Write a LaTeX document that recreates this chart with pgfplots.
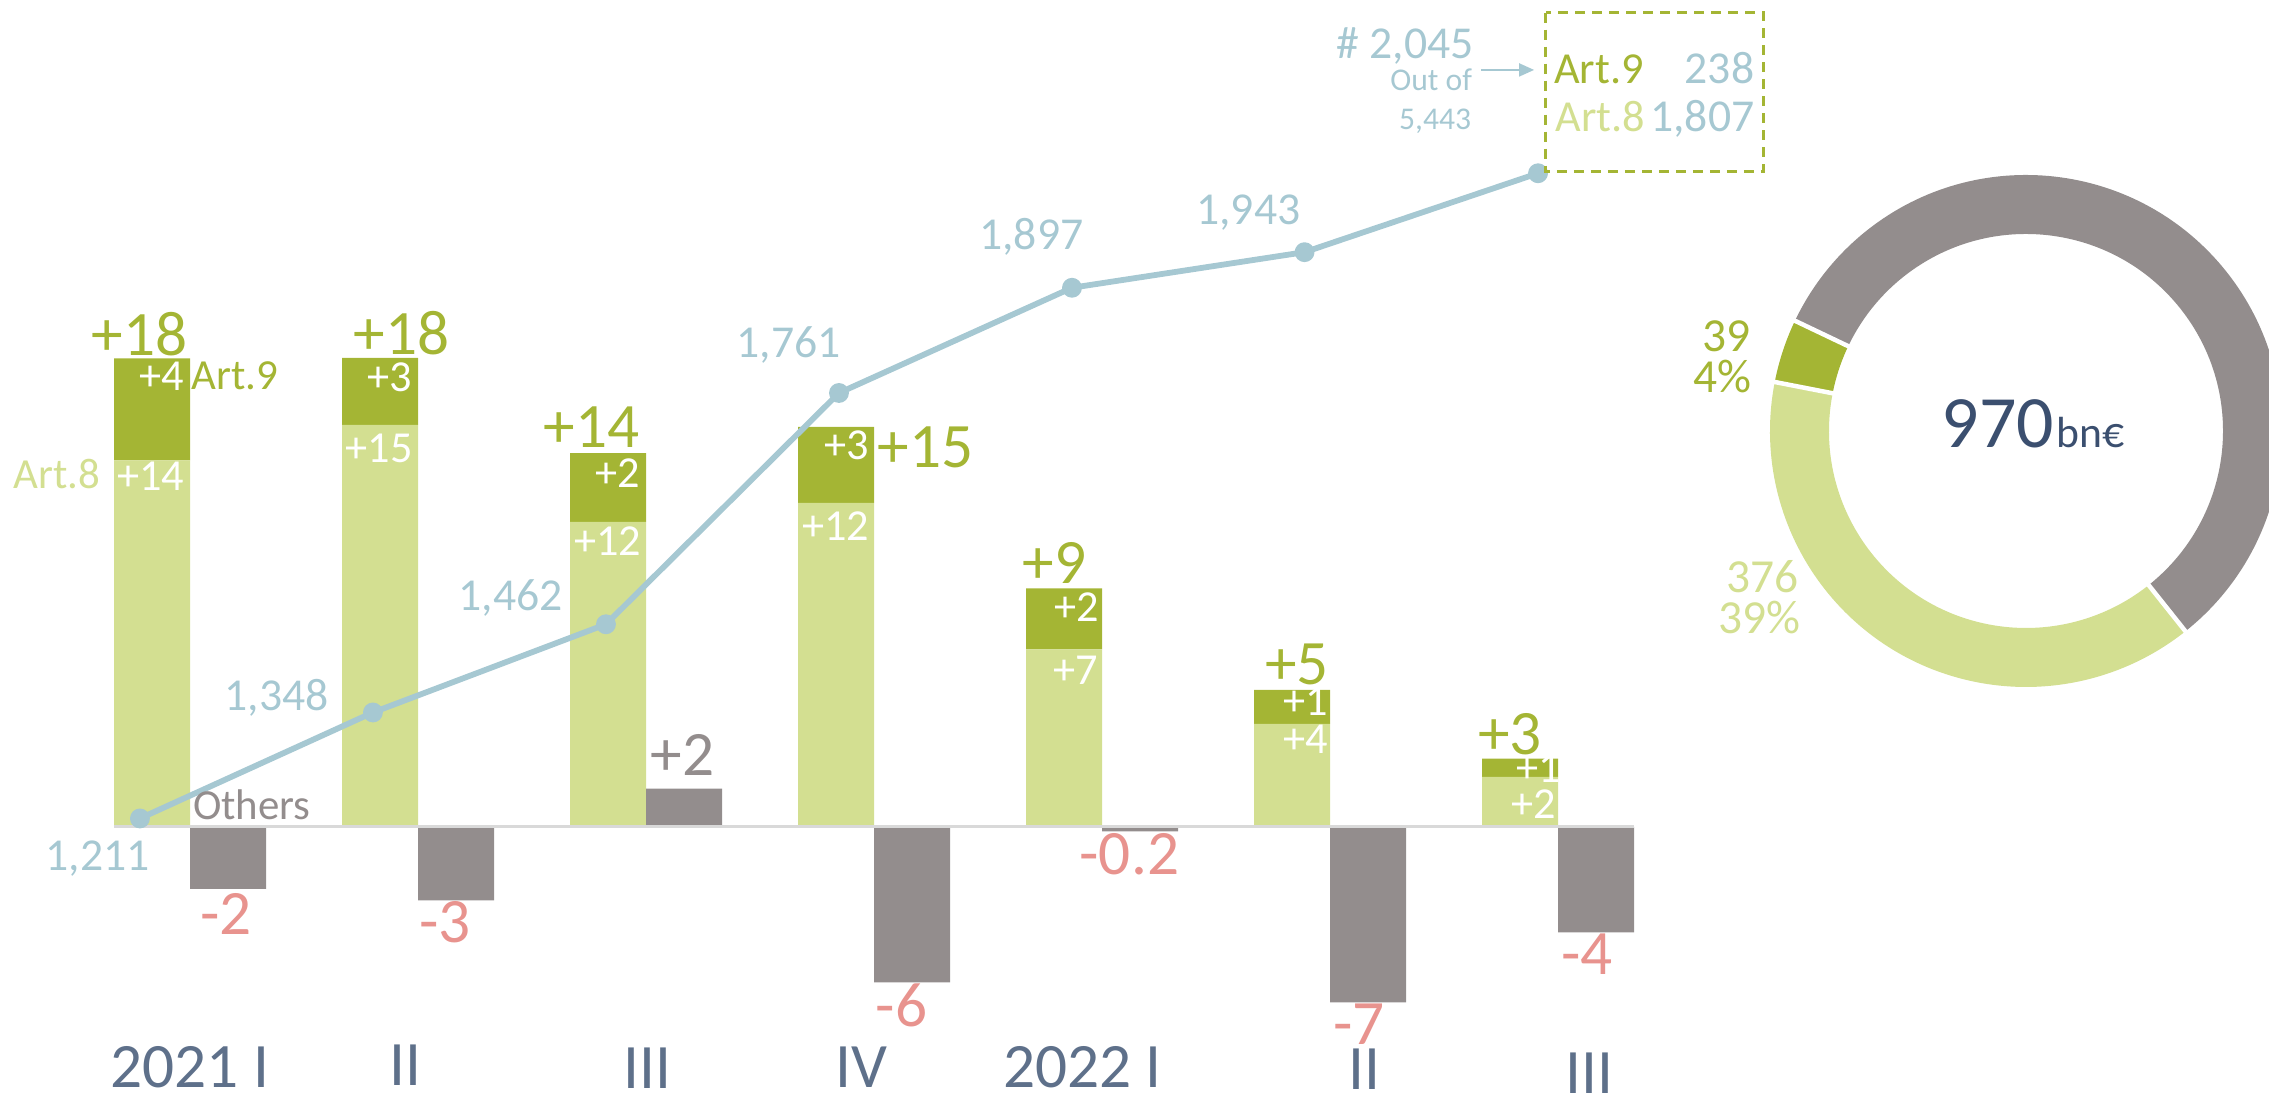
\documentclass[border=0pt]{standalone}
\usepackage{pgfplots}
\pgfplotsset{compat=1.18}
\usepackage{pgfplotstable}
\usepackage{fontspec}
\setmainfont{Carlito}
\usetikzlibrary{arrows.meta}

\definecolor{darkg}{HTML}{A4B534}
\definecolor{lightg}{HTML}{D3DF91}
\definecolor{othg}{HTML}{938D8D}
\definecolor{lineb}{HTML}{A6C8D2}
\definecolor{negr}{HTML}{E8938E}
\definecolor{catc}{HTML}{5E708A}
\definecolor{navy}{HTML}{3B4F6F}
\definecolor{zerol}{HTML}{D9D9D9}

\pgfplotstableread{
x art8 art9 oth
0 13.83 3.85 -2.34
1 15.17 2.53 -2.77
2 11.51 2.60 1.45
3 12.23 2.87 -5.86
4 6.70 2.30 -0.17
5 3.89 1.28 -6.62
6 1.89 0.69 -3.98
}\bars

\pgfplotstableread{
x n
-0.053 1211
0.969 1348
1.991 1462
3.013 1761
4.035 1897
5.055 1943
6.079 2045
}\funds

\pgfplotstableread{
seg val
art9 39
art8 376
oth 555
}\donut

\pgfplotstablegetelem{0}{val}\of\donut \pgfmathsetmacro\dA{\pgfplotsretval}
\pgfplotstablegetelem{1}{val}\of\donut \pgfmathsetmacro\dB{\pgfplotsretval}
\pgfplotstablegetelem{2}{val}\of\donut \pgfmathsetmacro\dC{\pgfplotsretval}
\pgfmathsetmacro\dT{\dA+\dB+\dC}
\pgfmathsetmacro\aA{154.5}
\pgfmathsetmacro\aB{\aA+360*(\dA/\dT)}
\pgfmathsetmacro\aC{\aB+360*(\dB/\dT)}
\pgfmathsetmacro\aD{\aA+360}

\newcommand\fbig{\fontsize{18}{20}\selectfont}
\newcommand\fwhite{\fontsize{12.6}{14}\selectfont}
\newcommand\fart{\fontsize{12.2}{14}\selectfont}
\newcommand\fline{\fontsize{13}{15}\selectfont}
\newcommand\fsmall{\fontsize{9}{10}\selectfont}
% \lab{anchor}{color}{font}{x}{y}{text}
\newcommand\lab[6]{\node[anchor=#1, inner sep=0pt, text=#2, font=#3] at (#4,#5) {#6};}

\begin{document}
\begin{tikzpicture}
\path[use as bounding box] (0,0) rectangle (22.69cm,10.98cm);

% stacked Art.8 / Art.9 bars
\begin{axis}[at={(0.152cm,0.06cm)}, anchor=south west, x=2.28cm, y=0.265cm,
  xmin=-0.6, xmax=6.7, ymin=-10, ymax=30, hide axis, clip=false,
  ybar stacked, bar width=0.76cm]
\addplot[fill=lightg, draw=none] table[x=x,y=art8]{\bars};
\addplot[fill=darkg, draw=none] table[x=x,y=art9]{\bars};
\end{axis}

% Others bars
\begin{axis}[at={(0.152cm,0.06cm)}, anchor=south west, x=2.28cm, y=0.265cm,
  xmin=-0.6, xmax=6.7, ymin=-10, ymax=30, hide axis, clip=false]
\addplot[ybar, bar width=0.76cm, bar shift=0.76cm, fill=othg, draw=none] table[x=x,y=oth]{\bars};
\draw[zerol, line width=0.03cm] (axis cs:-0.1667,0) -- (axis cs:6.5,0);
\end{axis}

% number of funds line
\begin{axis}[at={(0.152cm,1.163cm)}, anchor=south west, x=2.28cm, y=0.007729cm,
  xmin=-0.6, xmax=6.7, ymin=1000, ymax=2200, hide axis, clip=false]
\addplot[lineb, line width=0.058cm, line join=round, mark=*, mark size=0.07cm,
  mark options={fill=lineb, draw=none}] table[x=x,y=n]{\funds};
\end{axis}

% donut
\begin{axis}[at={(20.26cm,6.67cm)}, anchor=center, x=0.01cm, y=0.01cm,
  xmin=-300, xmax=300, ymin=-300, ymax=300, hide axis, clip=false]
\draw[darkg, line width=0.59cm] (axis cs:0,0) ++(\aA:2.265cm) arc[start angle=\aA, end angle=\aB, radius=2.265cm];
\draw[lightg, line width=0.59cm] (axis cs:0,0) ++(\aB:2.265cm) arc[start angle=\aB, end angle=\aC, radius=2.265cm];
\draw[othg, line width=0.59cm] (axis cs:0,0) ++(\aC:2.265cm) arc[start angle=\aC, end angle=\aD, radius=2.265cm];
\draw[white, line width=0.045cm] (axis cs:0,0) ++(\aA:1.9cm) -- ++(\aA:0.75cm);
\draw[white, line width=0.045cm] (axis cs:0,0) ++(\aB:1.9cm) -- ++(\aB:0.75cm);
\draw[white, line width=0.045cm] (axis cs:0,0) ++(\aC:1.9cm) -- ++(\aC:0.75cm);
\end{axis}

\begin{scope}[shift={(0,10.98cm)}, x=0.01cm, y=-0.01cm]
% bar 1
\lab{base}{darkg}{\fbig}{139.5}{355.5}{+18}
\lab{base}{white}{\fwhite}{162}{391}{+4}
\lab{base}{darkg}{\fart}{235}{390}{Art.9}
\lab{base}{lightg}{\fart}{57}{489}{Art.8}
\lab{base}{white}{\fwhite}{151}{491}{+14}
\lab{base}{othg}{\fart}{252}{820}{Others}
\lab{base}{lineb}{\fline}{97.5}{871}{1,211}
\lab{base}{negr}{\fbig}{226}{935}{-2}
\lab{base}{catc}{\fbig}{190}{1088}{2021 I}
% bar 2
\lab{base}{darkg}{\fbig}{402}{355}{+18}
\lab{base}{white}{\fwhite}{390}{392}{+3}
\lab{base}{white}{\fwhite}{379.5}{462.5}{+15}
\lab{base}{lineb}{\fline}{277}{711}{1,348}
\lab{base}{negr}{\fbig}{445}{943}{-3}
\lab{base}{catc}{\fbig}{406}{1086}{II}
% bar 3
\lab{base}{darkg}{\fbig}{592}{448}{+14}
\lab{base}{white}{\fwhite}{618}{487.5}{+2}
\lab{base}{white}{\fwhite}{608}{556}{+12}
\lab{base}{lineb}{\fline}{511}{611}{1,462}
\lab{base}{othg}{\fbig}{683}{776}{+2}
\lab{base}{catc}{\fbig}{648}{1089}{III}
% bar 4
\lab{base}{white}{\fwhite}{847}{460}{+3}
\lab{base}{darkg}{\fbig}{926}{467.5}{+15}
\lab{base}{white}{\fwhite}{836}{541}{+12}
\lab{base}{lineb}{\fline}{789}{358}{1,761}
\lab{base}{negr}{\fbig}{902}{1027}{-6}
\lab{base}{catc}{\fbig}{862}{1088}{IV}
% bar 5
\lab{base}{darkg}{\fbig}{1055}{584}{+9}
\lab{base}{white}{\fwhite}{1077}{622}{+2}
\lab{base}{white}{\fwhite}{1076}{685}{+7}
\lab{base}{lineb}{\fline}{1032}{250}{1,897}
\lab{base}{negr}{\fbig}{1130}{874.6}{-0.2}
\lab{base}{catc}{\fbig}{1083}{1088}{2022 I}
% bar 6
\lab{base}{darkg}{\fbig}{1298}{685}{+5}
\lab{base}{white}{\fwhite}{1306}{716}{+1}
\lab{base}{white}{\fwhite}{1306}{754}{+4}
\lab{base}{lineb}{\fline}{1249}{225}{1,943}
\lab{base}{negr}{\fbig}{1360}{1045}{-7}
\lab{base}{catc}{\fbig}{1365}{1090}{II}
% bar 7
\lab{base}{darkg}{\fbig}{1511}{754.5}{+3}
\lab{base}{white}{\fwhite}{1540}{782.5}{+1}
\lab{base}{white}{\fwhite}{1535}{818.5}{+2}
\lab{base}{negr}{\fbig}{1588}{975}{-4}
\lab{base}{catc}{\fbig}{1590}{1094}{III}
% top annotation
\lab{base}{lineb}{\fline}{1406}{58.3}{\# 2,045}
\lab{base}{lineb}{\fsmall}{1432}{90.7}{Out of}
\lab{base}{lineb}{\fsmall}{1436}{129.3}{5,443}
\draw[lineb, line width=0.018cm, -{Triangle[length=0.15cm,width=0.13cm]}] (1482,70) -- (1535,70);
\draw[darkg, line width=0.027cm, dash pattern=on 0.1cm off 0.07cm] (1546.7,12.7) rectangle (1764.3,171.7);
\lab{base}{darkg}{\fwhite}{1600}{84}{Art.9}
\lab{base east}{lineb}{\fline}{1756}{83.3}{238}
\lab{base}{lightg}{\fwhite}{1601.5}{131.7}{Art.8}
\lab{base east}{lineb}{\fline}{1756}{131.7}{1,807}
% donut labels
\lab{base east}{darkg}{\fontsize{13.5}{15}\selectfont}{1752}{351.7}{39}
\lab{base east}{darkg}{\fontsize{13.5}{15}\selectfont}{1753}{392.7}{4\%}
\lab{base east}{lightg}{\fontsize{13.5}{15}\selectfont}{1800}{592.6}{376}
\lab{base east}{lightg}{\fontsize{13.5}{15}\selectfont}{1802}{634}{39\%}
\lab{base east}{navy}{\fontsize{21}{24}\selectfont}{2056}{448}{970}
\lab{base west}{navy}{\fontsize{12.4}{14}\selectfont}{2057}{448}{bn€}
\end{scope}
\end{tikzpicture}
\end{document}
